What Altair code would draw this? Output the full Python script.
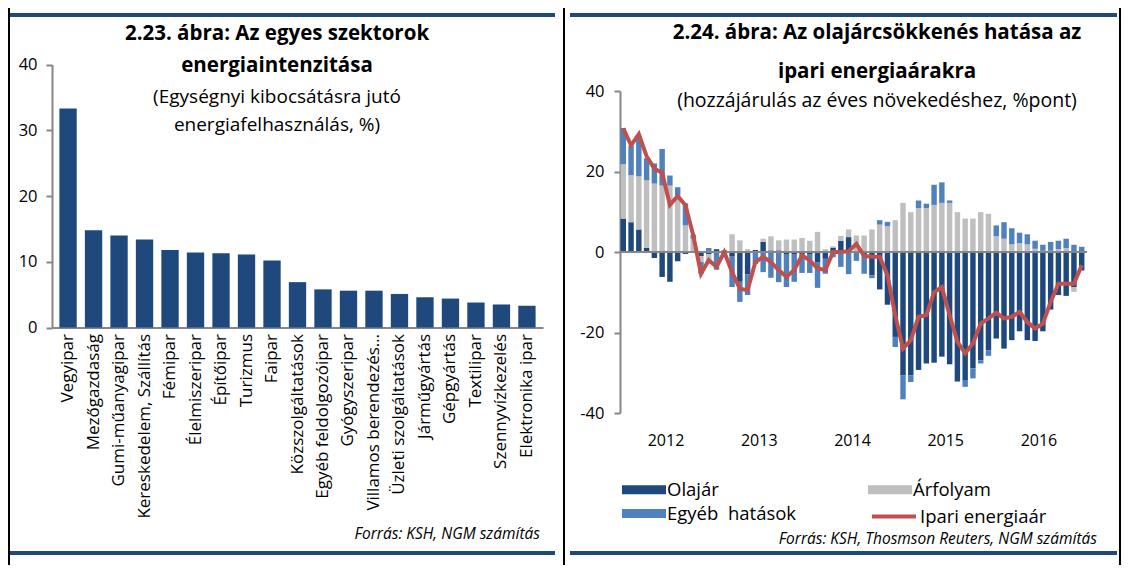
import altair as alt
import pandas as pd

# ---------------- data ----------------
sectors = ["Vegyipar", "Mezőgazdaság", "Gumi-műanyagipar", "Kereskedelem, Szállítás",
           "Fémipar", "Élelmiszeripar", "Építőipar", "Turizmus", "Faipar",
           "Közszolgáltatások", "Egyéb feldolgozóipar", "Gyógyszeripar",
           "Villamos berendezés…", "Üzleti szolgáltatások", "Járműgyártás",
           "Gépgyártás", "Textilipar", "Szennyvízkezelés", "Elektronika ipar"]
intensity = [33.3, 14.8, 14.0, 13.4, 11.8, 11.4, 11.3, 11.1, 10.2,
             6.9, 5.8, 5.6, 5.6, 5.1, 4.6, 4.4, 3.8, 3.5, 3.3]

years = ["2012", "2013", "2014", "2015", "2016"]
olajar = [8.3, 7.4, 5.6, 1.0, -1.5, -6.2, -7.4, -2.3, -0.5, 0.3,
          -1.0, -0.5, 0.7, -0.5, -1.0, -7.4, -5.6, 0.5, 2.5, 0.4,
          0.4, -0.5, -0.5, -0.5, -0.5, -2.5, -1.7, 1.1, 2.8, 3.7,
          0.2, -0.5, -5.8, -9.3, -13.1, -21.1, -30.6, -30.6, -29.3, -27.7,
          -27.5, -26.0, -27.9, -32.2, -31.8, -28.9, -26.9, -24.4, -21.5, -24.0,
          -21.9, -19.7, -21.9, -22.1, -19.7, -14.3, -10.7, -10.9, -8.7, -4.6]
arfolyam = [13.5, 11.7, 13.2, 16.8, 17.0, 16.5, 16.5, 14.0, 6.6, 3.0,
            -1.5, -2.5, 0.0, 0.3, 4.4, 2.9, 0.7, 0.0, 0.8, 3.5,
            2.5, 3.1, 3.1, 3.5, 2.8, 5.0, 0.7, 0.3, 1.2, 1.9,
            3.9, 4.1, 5.6, 6.8, 6.4, 7.9, 12.2, 9.9, 10.9, 10.9,
            11.7, 12.2, 12.2, 9.9, 8.3, 8.3, 9.9, 9.5, 3.9, 3.3,
            1.9, 2.2, 1.9, 0.8, 0.3, 0.3, 0.7, 1.0, -1.2, 0.0]
egyeb = [9.0, 7.3, 10.1, 5.5, 5.0, 9.1, 2.5, 2.1, 5.5, 1.0,
         -2.9, 1.0, -4.4, 0.2, -7.7, -5.0, -5.1, -3.0, -5.0, -6.4,
         -7.5, -8.2, -6.9, -4.7, -4.7, -6.4, -3.7, -1.3, -3.7, -5.5,
         -2.2, -4.9, -0.7, 1.1, 1.1, -2.5, -6.0, -1.7, 1.9, 1.1,
         5.0, 5.1, 0.6, 0.0, -1.7, -2.5, -0.8, -1.4, 2.7, 4.1,
         4.0, 2.6, 2.5, 2.0, 1.5, 2.2, 2.1, 2.3, 1.8, 1.3]
ipari = [30.7, 26.5, 29.3, 23.8, 20.7, 19.7, 11.7, 13.9, 11.6, 4.2,
         -5.4, -2.0, -3.7, 0.0, -5.0, -9.1, -9.5, -2.5, -1.2, -2.5,
         -4.5, -6.2, -4.5, -0.8, -2.1, -4.0, -4.5, 0.0, 0.0, 0.2,
         2.0, -1.0, -1.2, -1.2, -5.8, -15.7, -24.0, -21.9, -16.1, -15.7,
         -10.0, -8.7, -15.7, -22.3, -25.2, -22.7, -17.8, -16.5, -15.1, -16.5,
         -16.1, -14.9, -17.4, -19.0, -17.8, -12.4, -7.9, -7.9, -7.9, -3.3]
comp_names = ["Olajár", "Árfolyam", "Egyéb\u00a0 hatások"]
line_name = "Ipari energiaár"

months = [f"{y}-{m:02d}" for y in years for m in range(1, 13)]

# ---------------- style ----------------
FONT = "Open Sans"
DARK = "#1F497D"
GREY = "#BFBFBF"
LIGHT = "#4F81BD"
RED = "#C0504D"
AXIS = "#868686"
W, H = 1113, 557

dummy = pd.DataFrame({"d": [0]})

# ---------------- left panel ----------------
left_df = pd.DataFrame({"sector": sectors, "value": intensity})
left = alt.Chart(left_df).mark_bar(color=DARK).encode(
    x=alt.X("sector:N", sort=sectors,
            scale=alt.Scale(range=[44, 535], paddingInner=0.32, paddingOuter=0.29),
            axis=alt.Axis(title=None, orient="bottom", offset=-237.5, labelAngle=-90,
                          ticks=False, domainColor=AXIS, domainWidth=2,
                          labelFont=FONT, labelFontSize=17, labelColor="#000",
                          labelPadding=6, labelLimit=400)),
    y=alt.Y("value:Q",
            scale=alt.Scale(domain=[0, 40], range=[319.5, 56.5], nice=False),
            axis=alt.Axis(title=None, orient="left", offset=-44, values=[0, 10, 20, 30, 40],
                          grid=False, tickSize=6, tickColor=AXIS, tickWidth=2,
                          domainColor=AXIS, domainWidth=2, labelFont=FONT,
                          labelFontSize=16.5, labelPadding=9, labelColor="#000")),
)

# ---------------- right panel ----------------
rows = []
for i, m in enumerate(months):
    for k, (name, arr) in enumerate(zip(comp_names, [olajar, arfolyam, egyeb])):
        rows.append({"month": m, "comp": name, "val": arr[i], "ord": k})
bars_df = pd.DataFrame(rows)

xr = alt.X("month:O", sort=months,
           scale=alt.Scale(type="band", range=[611.4, 1077.6], paddingInner=0.3, paddingOuter=0.15),
           axis=alt.Axis(title=None, orient="bottom", offset=-140, ticks=False, domain=False,
                         labelAngle=0, labelOverlap=False,
                         labelExpr="slice(datum.value, 5) == '07' ? slice(datum.value, 0, 4) : ''",
                         labelOffset=-3.9, labelFont=FONT, labelFontSize=16,
                         labelColor="#000", labelPadding=7))
yaxis_r = alt.Axis(title=None, orient="left", offset=-612, values=[-40, -20, 0, 20, 40],
                   grid=False, tickSize=6, tickColor=AXIS, tickWidth=2,
                   domainColor=AXIS, domainWidth=2, labelFont=FONT, labelFontSize=16.5,
                   labelPadding=10, labelColor="#000", labelExpr="'' + datum.value")
yscale_r = alt.Scale(domain=[-40, 40], range=[405, 83], nice=False)

bars = alt.Chart(bars_df).mark_bar().encode(
    x=xr,
    y=alt.Y("val:Q", stack="zero", scale=yscale_r, axis=yaxis_r),
    color=alt.Color("comp:N", scale=alt.Scale(domain=comp_names, range=[DARK, GREY, LIGHT]),
                    legend=alt.Legend(title=None, orient="none", legendX=625, legendY=470.5,
                                      direction="horizontal", columns=2, columnPadding=71,
                                      rowPadding=3,
                                      symbolType="M-2,-0.4H2V0.4H-2Z", symbolSize=484,
                                      symbolStrokeWidth=0, labelFont=FONT, labelFontSize=18.5,
                                      labelColor="#000", labelOffset=12)),
    order=alt.Order("ord:Q"),
)

zero = alt.Chart(dummy).mark_rule(color=AXIS, strokeWidth=2).encode(
    y=alt.datum(0), x=alt.value(612), x2=alt.value(1079))

line_df = pd.DataFrame({"month": months, "val": ipari, "name": [line_name] * len(months)})
line = alt.Chart(line_df).mark_line(strokeWidth=4).encode(
    x=xr,
    y=alt.Y("val:Q", scale=yscale_r, axis=yaxis_r),
    stroke=alt.Stroke("name:N", scale=alt.Scale(domain=[line_name], range=[RED]),
                      legend=alt.Legend(title=None, orient="none", legendX=873, legendY=495.5,
                                        symbolType="M-2,0H2", symbolSize=484,
                                        symbolStrokeWidth=4, labelFont=FONT, labelFontSize=18.5,
                                        labelColor="#000", labelOffset=13)),
)

right = alt.layer(bars, zero, line)


# ---------------- texts and frame ----------------
def txt(s, x, y, size, weight="normal", style="normal", align="center"):
    return alt.Chart(dummy).mark_text(text=s, font=FONT, fontSize=size, fontWeight=weight,
                                      fontStyle=style, align=align, baseline="middle",
                                      color="#000").encode(x=alt.value(x), y=alt.value(y))


def rule(x1, x2, y1, y2, color, w):
    return alt.Chart(dummy).mark_rule(color=color, strokeWidth=w).encode(
        x=alt.value(x1), x2=alt.value(x2), y=alt.value(y1), y2=alt.value(y2))


texts = [
    txt("2.23. ábra: Az egyes szektorok", 269, 26, 20.5, "bold"),
    txt("energiaintenzitása", 269, 58, 20.5, "bold"),
    txt("(Egységnyi kibocsátásra jutó", 269, 89, 19),
    txt("energiafelhasználás, %)", 269, 117, 19),
    txt("Forrás: KSH, NGM számítás", 532, 526, 15.5, style="italic", align="right"),
    txt("2.24. ábra: Az olajárcsökkenés hatása az", 869, 25, 20.5, "bold"),
    txt("ipari energiaárakra", 869, 64, 20.5, "bold"),
    txt("(hozzájárulás az éves növekedéshez, %pont)", 869, 93, 19.5),
    txt("Forrás: KSH, Thosmson Reuters, NGM számítás", 1089, 531, 15.5, style="italic", align="right"),
]
frame = [
    rule(2, 547, 7, 7, DARK, 4),
    rule(2, 547, 545, 545, DARK, 4),
    rule(562, 1109, 7, 7, DARK, 4),
    rule(562, 1109, 545, 545, DARK, 4),
    rule(1, 1, 0, 557, "#000", 2),
    rule(556, 556, 0, 557, "#000", 2),
    rule(1112, 1112, 0, 557, "#000", 2),
]

chart = alt.layer(left, right, *texts, *frame).resolve_scale(
    x="independent", y="independent", color="independent", stroke="independent"
).resolve_axis(x="independent", y="independent").properties(
    width=W, height=H, padding=0, autosize=alt.AutoSizeParams(type="none"),
    background="white"
).configure_view(stroke=None)

chart.save("out.html", embed_options={"renderer": "svg", "actions": False})
